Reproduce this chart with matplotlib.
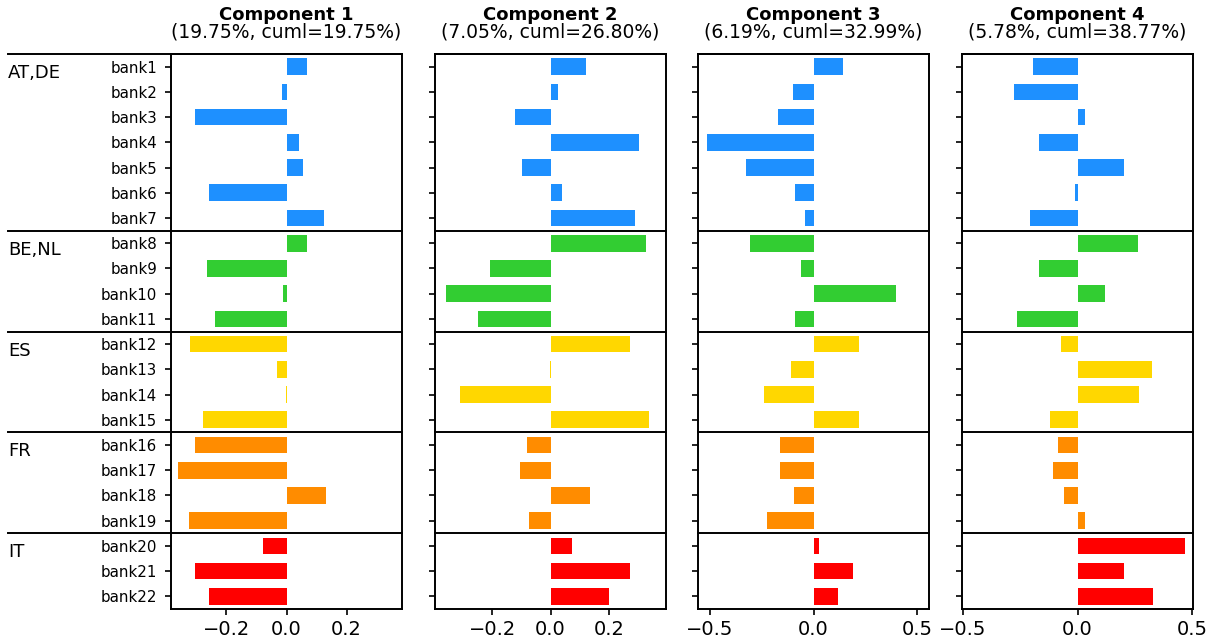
import numpy as np
import matplotlib
matplotlib.use("Agg")
import matplotlib.pyplot as plt
import matplotlib.transforms as mtransforms

# Loadings of the first four principal components per bank
banks = [f"bank{i}" for i in range(1, 23)]
groups = ["AT,DE", "BE,NL", "ES", "FR", "IT"]
group_sizes = [7, 4, 4, 4, 3]
group_colors = ["#1E90FF", "#32CD32", "#FFD700", "#FF8C00", "#FF0000"]

comp_names = ["Component 1", "Component 2", "Component 3", "Component 4"]
explained = [19.75, 7.05, 6.19, 5.78]
cumulative = [19.75, 26.80, 32.99, 38.77]

comp1 = [0.067, -0.016, -0.304, 0.041, 0.054, -0.258, 0.124,
         0.067, -0.264, -0.012, -0.238,
         -0.320, -0.032, -0.003, -0.277,
         -0.304, -0.360, 0.130, -0.324,
         -0.079, -0.304, -0.258]
comp2 = [0.123, 0.024, -0.123, 0.302, -0.099, 0.038, 0.291,
         0.329, -0.206, -0.360, -0.247,
         0.274, -0.003, -0.309, 0.339,
         -0.079, -0.103, 0.137, -0.075,
         0.075, 0.274, 0.202]
comp3 = [0.140, -0.101, -0.169, -0.515, -0.323, -0.087, -0.043,
         -0.308, -0.058, 0.395, -0.087,
         0.217, -0.106, -0.236, 0.217,
         -0.159, -0.159, -0.096, -0.226,
         0.025, 0.188, 0.116]
comp4 = [-0.196, -0.279, 0.031, -0.166, 0.201, -0.009, -0.209,
         0.266, -0.170, 0.118, -0.266,
         -0.074, 0.323, 0.270, -0.122,
         -0.087, -0.105, -0.057, 0.031,
         0.471, 0.205, 0.331]
loadings = [comp1, comp2, comp3, comp4]

xlims = [0.384, 0.396, 0.556, 0.504]
xticks = [[-0.2, 0.0, 0.2], [-0.2, 0.0, 0.2], [-0.5, 0.0, 0.5], [-0.5, 0.0, 0.5]]

W, H = 1217, 643
fig = plt.figure(figsize=(W / 100, H / 100), dpi=100)

bar_colors = []
for c, n in zip(group_colors, group_sizes):
    bar_colors += [c] * n
starts = np.cumsum([0] + group_sizes[:-1])

lefts = [171, 435, 698, 962]
ax_w = 231
bottom, top = 609, 54
y = np.arange(len(banks))

for k, ax_left in enumerate(lefts):
    ax = fig.add_axes([ax_left / W, (H - bottom) / H, ax_w / W, (bottom - top) / H])
    ax.barh(y, loadings[k], height=0.66, color=bar_colors)
    ax.set_ylim(len(banks) - 0.5, -0.5)
    ax.set_xlim(-xlims[k], xlims[k])
    ax.set_xticks(xticks[k])
    ax.set_yticks(y)
    if k == 0:
        ax.set_yticklabels(banks, fontsize=10.8)
    else:
        ax.set_yticklabels([])
    ax.tick_params(axis="x", labelsize=14, length=4.5, width=1.2, pad=3.5)
    ax.tick_params(axis="y", length=4.5, width=1.2, pad=5.5)
    for sp in ax.spines.values():
        sp.set_linewidth(1.4)

    # group separators; on the first panel they run out to the group names
    trans = mtransforms.blended_transform_factory(ax.transAxes, ax.transData)
    x0 = (8 - ax_left) / ax_w if k == 0 else 0.0
    for s in starts:
        ax.plot([x0, 1], [s - 0.5, s - 0.5], color="black", lw=1.4,
                transform=trans, clip_on=False)

    ax.annotate(comp_names[k], xy=(0.5, 1), xycoords="axes fraction",
                xytext=(0, 24.5), textcoords="offset points",
                ha="center", va="baseline", fontsize=13, fontweight="bold")
    ax.annotate(f"({explained[k]:.2f}%, cuml={cumulative[k]:.2f}%)",
                xy=(0.5, 1), xycoords="axes fraction",
                xytext=(0, 12), textcoords="offset points",
                ha="center", va="baseline", fontsize=13.5)

    if k == 0:
        ftrans = mtransforms.blended_transform_factory(fig.transFigure, ax.transData)
        for g, s in zip(groups, starts):
            ax.text(8 / W, s - 0.1, g, transform=ftrans, ha="left", va="top",
                    fontsize=13)

fig.savefig("out.png", dpi=100)
